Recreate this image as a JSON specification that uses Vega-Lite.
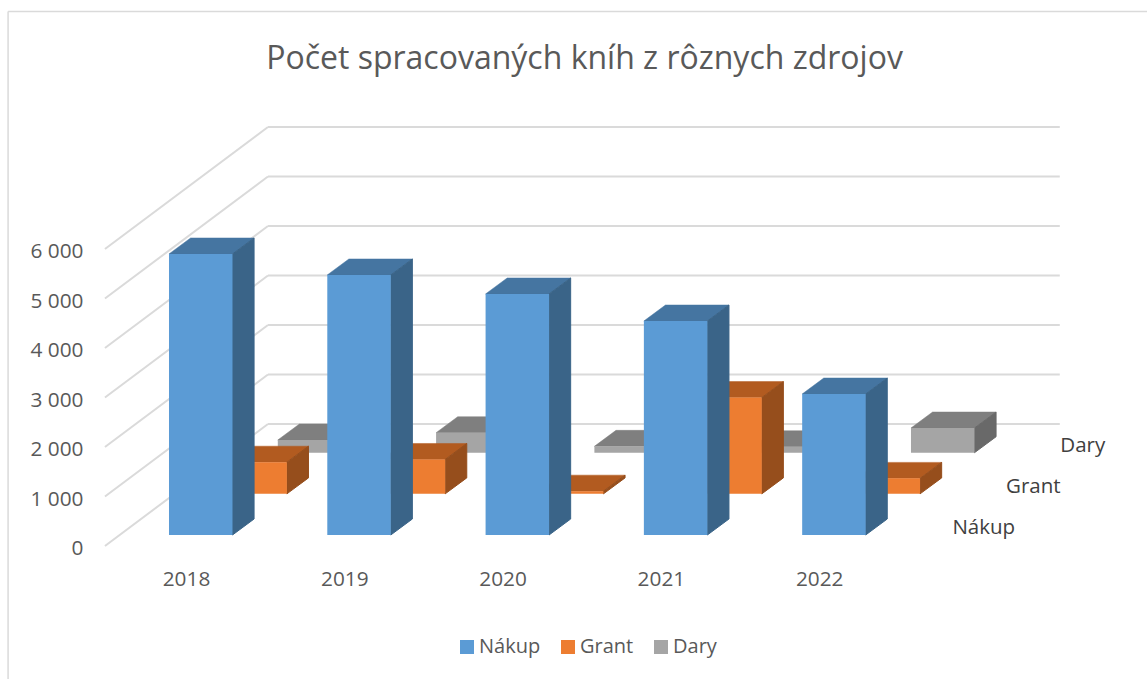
{
"$schema":"https://vega.github.io/schema/vega-lite/v6.json",
"width":1147,"height":679,"padding":0,"autosize":{"type":"none"},
"background":"white",
"config":{"view":{"stroke":null},"font":"Open Sans"},
"title":{"text":"Počet spracovaných kníh z rôznych zdrojov","font":"Open Sans","fontSize":32,"fontWeight":"normal","color":"#595959","anchor":"middle","dx":11,"dy":33,"offset":-68,"baseline":"alphabetic","frame":"group"},
"layer":[
{"data":{"values":[{"v":0},{"v":1000},{"v":2000},{"v":3000},{"v":4000},{"v":5000},{"v":6000}]},
 "transform":[{"calculate":"datum.v+2465","as":"back"},{"calculate":"2017.488","as":"fx"},{"calculate":"2018.518","as":"bx"},{"calculate":"2023.52","as":"rx"}],
 "layer":[
 {"mark":{"type":"rule","color":"#DADADA","strokeWidth":2},
  "encoding":{
   "x":{"field":"fx","type":"quantitative","scale":{"domain":[2016.825,2024.071],"nice":false,"zero":false},
        "axis":{"values":[2018,2019,2020,2021,2022],"format":"d","title":null,"domain":false,"ticks":false,"grid":false,"labelFont":"Open Sans","labelFontSize":20.8,"labelColor":"#595959","labelPadding":0,"offset":-110,"labelFlush":false,"labelOverlap":false}},
   "x2":{"field":"bx"},
   "y":{"field":"v","type":"quantitative","scale":{"domain":[-2687,11030],"nice":false,"zero":false},
        "axis":{"values":[0,1000,2000,3000,4000,5000,6000],"labelExpr":"replace(format(datum.value,','),',',' ')","title":null,"domain":false,"ticks":false,"grid":false,"labelFont":"Open Sans","labelFontSize":20.8,"labelColor":"#595959","labelPadding":0,"labelOffset":3,"offset":-83,"labelOverlap":false}},
   "y2":{"field":"back"}}},
 {"mark":{"type":"rule","color":"#DADADA","strokeWidth":2},
  "encoding":{"x":{"field":"bx","type":"quantitative"},"x2":{"field":"rx"},"y":{"field":"back","type":"quantitative"}}}
 ]},
{"data":{"values":[{"left":2016.876,"right":2024.071,"top":10798,"bottom":-2687}]},
 "layer":[
 {"mark":{"type":"rule","color":"#DADADA","strokeWidth":1.5},
  "encoding":{"x":{"field":"left","type":"quantitative"},"x2":{"field":"right"},"y":{"field":"top","type":"quantitative"}}},
 {"mark":{"type":"rule","color":"#DADADA","strokeWidth":1.5},
  "encoding":{"x":{"field":"left","type":"quantitative"},"y":{"field":"top","type":"quantitative"},"y2":{"field":"bottom"}}}
 ]},
{"data":{"values":[
 {"year":2018,"series":"Nákup","value":5677},{"year":2019,"series":"Nákup","value":5253},{"year":2020,"series":"Nákup","value":4869},{"year":2021,"series":"Nákup","value":4323},{"year":2022,"series":"Nákup","value":2848},
 {"year":2018,"series":"Grant","value":640},{"year":2019,"series":"Grant","value":695},{"year":2020,"series":"Grant","value":55},{"year":2021,"series":"Grant","value":1945},{"year":2022,"series":"Grant","value":313},
 {"year":2018,"series":"Dary","value":257},{"year":2019,"series":"Dary","value":404},{"year":2020,"series":"Dary","value":129},{"year":2021,"series":"Dary","value":121},{"year":2022,"series":"Dary","value":499}
 ]},
 "transform":[
 {"calculate":"indexof(['Nákup','Grant','Dary'],datum.series)","as":"s"},
 {"calculate":"[0,1]","as":"t"},{"flatten":["t"]},
 {"calculate":"222+831*datum.s","as":"base"},
 {"calculate":"datum.base+datum.value","as":"top"},
 {"calculate":"datum.year-0.1074+0.3437*datum.s","as":"left"},
 {"calculate":"datum.left+0.401","as":"right"},
 {"calculate":"datum.right+datum.t*0.1365","as":"sx"},
 {"calculate":"datum.base+datum.t*323","as":"sy"},
 {"calculate":"datum.top+datum.t*323","as":"sy2"},
 {"calculate":"datum.left+datum.t*0.1365","as":"tx"},
 {"calculate":"datum.right+datum.t*0.1365","as":"tx2"}
 ],
 "layer":[
 {"transform":[{"filter":"datum.series=='Dary'"}],"layer":[
  {"mark":{"type":"area","orient":"horizontal","color":"#7F7F7F","stroke":"#7F7F7F","strokeWidth":0.5},"encoding":{"y":{"field":"sy2","type":"quantitative"},"x":{"field":"tx","type":"quantitative"},"x2":{"field":"tx2"},"detail":{"field":"year"}}},
  {"mark":{"type":"area","orient":"vertical","color":"#696969","stroke":"#696969","strokeWidth":1},"encoding":{"x":{"field":"sx","type":"quantitative"},"y":{"field":"sy","type":"quantitative"},"y2":{"field":"sy2"},"detail":{"field":"year"}}},
  {"transform":[{"filter":"datum.t==0"}],"mark":{"type":"rect"},"encoding":{"x":{"field":"left","type":"quantitative"},"x2":{"field":"right"},"y":{"field":"base","type":"quantitative"},"y2":{"field":"top"},
    "color":{"field":"series","type":"nominal","scale":{"domain":["Nákup","Grant","Dary"],"range":["#5B9BD5","#ED7D31","#A5A5A5"]},"sort":null,
      "legend":{"title":null,"orient":"none","legendX":457,"legendY":637,"direction":"horizontal","padding":0,"symbolType":"square","symbolSize":196,"symbolStrokeWidth":0,"symbolOpacity":1,"labelFont":"Open Sans","labelFontSize":20,"labelColor":"#595959","labelOffset":2,"columnPadding":17}}}}
 ]},
 {"transform":[{"filter":"datum.series=='Grant'"}],"layer":[
  {"mark":{"type":"area","orient":"horizontal","color":"#B25B20","stroke":"#B25B20","strokeWidth":0.5},"encoding":{"y":{"field":"sy2","type":"quantitative"},"x":{"field":"tx","type":"quantitative"},"x2":{"field":"tx2"},"detail":{"field":"year"}}},
  {"mark":{"type":"area","orient":"vertical","color":"#964E1C","stroke":"#964E1C","strokeWidth":1},"encoding":{"x":{"field":"sx","type":"quantitative"},"y":{"field":"sy","type":"quantitative"},"y2":{"field":"sy2"},"detail":{"field":"year"}}},
  {"transform":[{"filter":"datum.t==0"}],"mark":{"type":"rect"},"encoding":{"x":{"field":"left","type":"quantitative"},"x2":{"field":"right"},"y":{"field":"base","type":"quantitative"},"y2":{"field":"top"},"color":{"field":"series","type":"nominal"}}}
 ]},
 {"transform":[{"filter":"datum.series=='Nákup'"}],"layer":[
  {"mark":{"type":"area","orient":"horizontal","color":"#4575A1","stroke":"#4575A1","strokeWidth":0.5},"encoding":{"y":{"field":"sy2","type":"quantitative"},"x":{"field":"tx","type":"quantitative"},"x2":{"field":"tx2"},"detail":{"field":"year"}}},
  {"mark":{"type":"area","orient":"vertical","color":"#3A6488","stroke":"#3A6488","strokeWidth":1},"encoding":{"x":{"field":"sx","type":"quantitative"},"y":{"field":"sy","type":"quantitative"},"y2":{"field":"sy2"},"detail":{"field":"year"}}},
  {"transform":[{"filter":"datum.t==0"}],"mark":{"type":"rect"},"encoding":{"x":{"field":"left","type":"quantitative"},"x2":{"field":"right"},"y":{"field":"base","type":"quantitative"},"y2":{"field":"top"},"color":{"field":"series","type":"nominal"}}}
 ]}
 ]},
{"data":{"values":[{"series":"Nákup"},{"series":"Grant"},{"series":"Dary"}]},
 "transform":[
 {"calculate":"indexof(['Nákup','Grant','Dary'],datum.series)","as":"s"},
 {"calculate":"2023.04+0.3127*datum.s","as":"lx"},
 {"calculate":"364+828*datum.s","as":"ly"}],
 "mark":{"type":"text","font":"Open Sans","fontSize":20.5,"color":"#404040","align":"center","baseline":"middle"},
 "encoding":{"x":{"field":"lx","type":"quantitative"},"y":{"field":"ly","type":"quantitative"},"text":{"field":"series"}}}
]}
